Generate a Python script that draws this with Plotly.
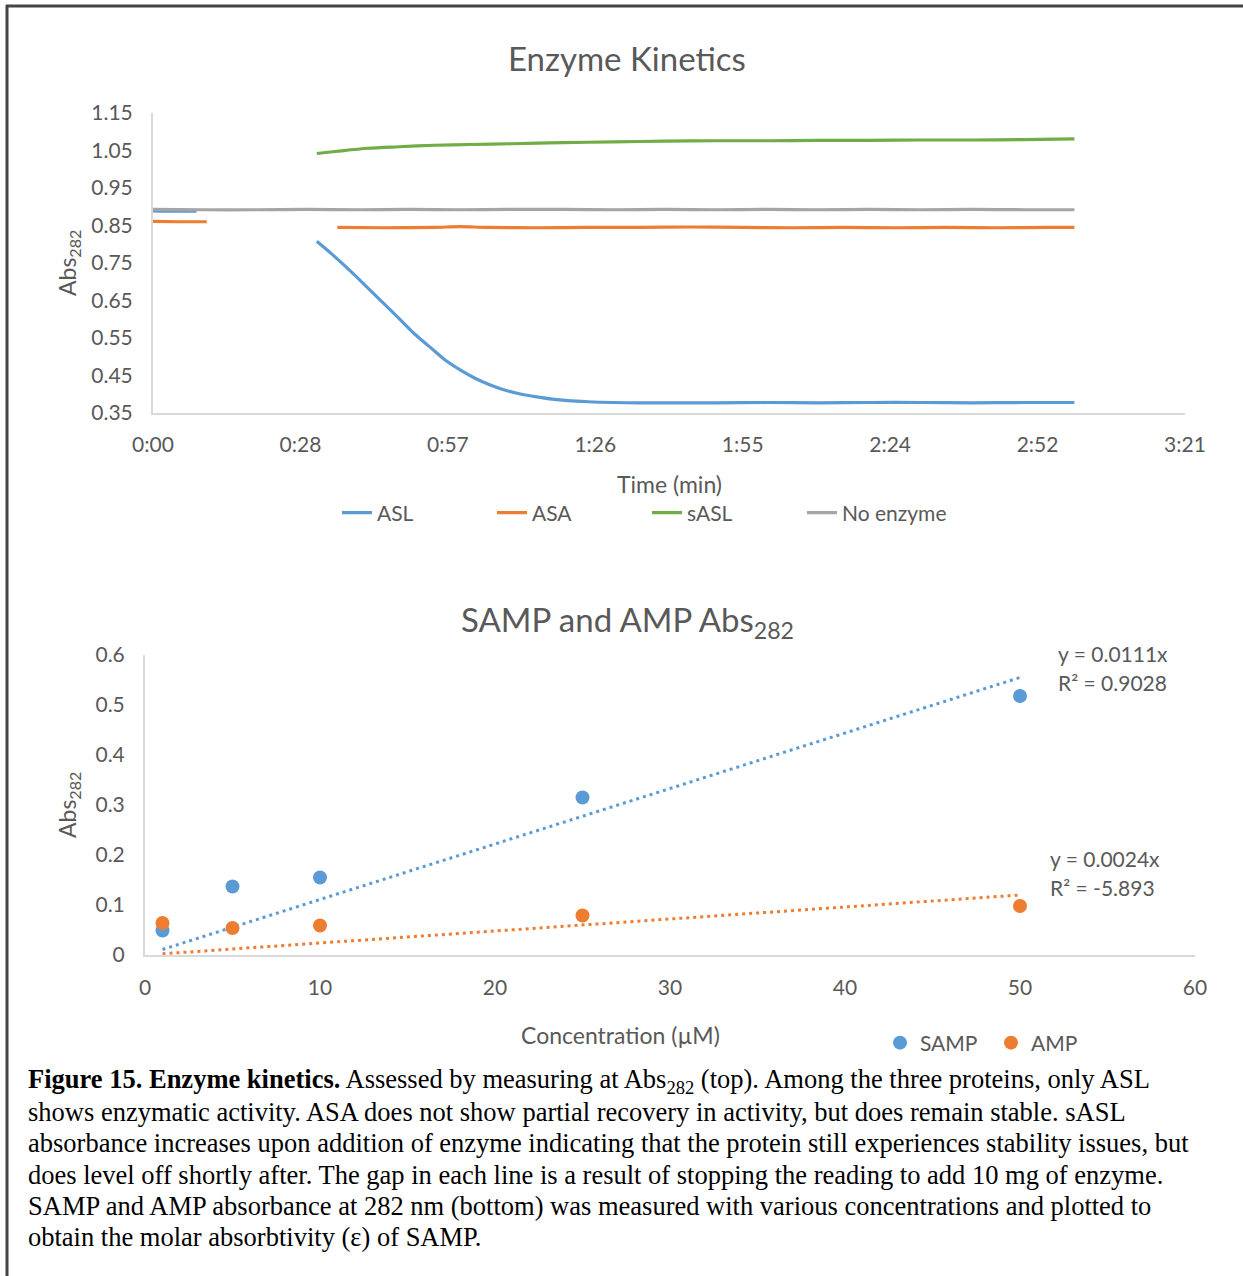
import plotly.graph_objects as go

W, H = 1243, 1276

# ---------------- data: top chart (time in seconds) ----------------
time_ticks = [0, 28.8, 57.6, 86.4, 115.2, 144.0, 172.8, 201.6]
time_labels = ["0:00", "0:28", "0:57", "1:26", "1:55", "2:24", "2:52", "3:21"]

asl_t1 = [0, 4, 8.5]
asl_v1 = [0.889, 0.888, 0.888]
asl_t2 = [32, 35, 39, 42, 45, 48, 51, 54, 57, 60, 63, 66, 69, 72, 75, 78, 81, 85,
          90, 95, 100, 110, 120, 130, 140, 150, 160, 170, 180]
asl_v2 = [0.808, 0.773, 0.723, 0.683, 0.643, 0.603, 0.562, 0.527, 0.492, 0.465,
          0.442, 0.424, 0.410, 0.400, 0.393, 0.387, 0.383, 0.380, 0.378, 0.377,
          0.377, 0.377, 0.378, 0.377, 0.378, 0.378, 0.377, 0.378, 0.378]

asa_t1 = [0, 5, 10.5]
asa_v1 = [0.861, 0.860, 0.860]
asa_t2 = [36, 45, 55, 60, 65, 75, 85, 95, 105, 115, 125, 135, 145, 155, 165, 175, 180]
asa_v2 = [0.845, 0.844, 0.845, 0.847, 0.845, 0.844, 0.845, 0.845, 0.846, 0.845,
          0.844, 0.845, 0.844, 0.845, 0.844, 0.845, 0.845]

sasl_t = [32, 36, 42, 48, 55, 62, 70, 80, 90, 100, 110, 120, 130, 140, 150, 160, 170, 180]
sasl_v = [1.042, 1.048, 1.056, 1.060, 1.064, 1.066, 1.068, 1.071, 1.073, 1.075,
          1.076, 1.076, 1.077, 1.077, 1.078, 1.078, 1.079, 1.081]

noenz_t = [0, 10, 20, 30, 40, 50, 60, 70, 80, 90, 100, 110, 120, 130, 140, 150, 160, 170, 180]
noenz_v = [0.893, 0.892, 0.892, 0.893, 0.892, 0.893, 0.892, 0.893, 0.893, 0.892,
           0.893, 0.892, 0.893, 0.892, 0.893, 0.892, 0.893, 0.892, 0.892]

# ---------------- data: bottom chart ----------------
conc = [1, 5, 10, 25, 50]
samp_abs = [0.049, 0.137, 0.155, 0.315, 0.518]
amp_abs = [0.064, 0.054, 0.059, 0.079, 0.098]
samp_slope, amp_slope = 0.0111, 0.0024
samp_eq = ["y = 0.0111x", "R² = 0.9028"]
amp_eq = ["y = 0.0024x", "R² = -5.893"]

caption_lines = [
    "<b>Figure 15. Enzyme kinetics.</b> Assessed by measuring at Abs<sub>282</sub> (top). Among the three proteins, only ASL",
    "shows enzymatic activity. ASA does not show partial recovery in activity, but does remain stable. sASL",
    "absorbance increases upon addition of enzyme indicating that the protein still experiences stability issues, but",
    "does level off shortly after. The gap in each line is a result of stopping the reading to add 10 mg of enzyme.",
    "SAMP and AMP absorbance at 282 nm (bottom) was measured with various concentrations and plotted to",
    "obtain the molar absorbtivity (\u03b5) of SAMP.",
]

BLUE, ORANGE, GREEN, GREY = "#5B9BD5", "#ED7D31", "#70AD47", "#A5A5A5"
TXT = "#595959"
AX = "#D9D9D9"
FONT = "Lato"
TICK = 21


def px(x):
    return x / W


def py(y):
    return 1 - y / H


def joined(t1, v1, t2, v2):
    return t1 + [None] + t2, v1 + [None] + v2


fig = go.Figure()

x, y = joined(asl_t1, asl_v1, asl_t2, asl_v2)
fig.add_trace(go.Scatter(x=x, y=y, mode="lines", name="ASL",
                         line=dict(color=BLUE, width=3.2, shape="spline", smoothing=0.8),
                         connectgaps=False, xaxis="x", yaxis="y", legend="legend"))
x, y = joined(asa_t1, asa_v1, asa_t2, asa_v2)
fig.add_trace(go.Scatter(x=x, y=y, mode="lines", name="ASA",
                         line=dict(color=ORANGE, width=3.2, shape="spline", smoothing=0.8),
                         connectgaps=False, xaxis="x", yaxis="y", legend="legend"))
fig.add_trace(go.Scatter(x=sasl_t, y=sasl_v, mode="lines", name="sASL",
                         line=dict(color=GREEN, width=3.2, shape="spline", smoothing=0.8),
                         xaxis="x", yaxis="y", legend="legend"))
fig.add_trace(go.Scatter(x=noenz_t, y=noenz_v, mode="lines", name="No enzyme",
                         line=dict(color=GREY, width=3.2, shape="spline", smoothing=0.8),
                         xaxis="x", yaxis="y", legend="legend"))

# trendlines (bottom)
tx = [conc[0], conc[-1]]
fig.add_trace(go.Scatter(x=tx, y=[samp_slope * v for v in tx], mode="lines", showlegend=False,
                         line=dict(color=BLUE, width=3, dash="3px,4px"), xaxis="x2", yaxis="y2"))
fig.add_trace(go.Scatter(x=tx, y=[amp_slope * v for v in tx], mode="lines", showlegend=False,
                         line=dict(color=ORANGE, width=3, dash="3px,4px"), xaxis="x2", yaxis="y2"))
fig.add_trace(go.Scatter(x=conc, y=samp_abs, mode="markers", name="SAMP", marker=dict(color=BLUE, size=14),
                         xaxis="x2", yaxis="y2", legend="legend2"))
fig.add_trace(go.Scatter(x=conc, y=amp_abs, mode="markers", name="AMP", marker=dict(color=ORANGE, size=14),
                         xaxis="x2", yaxis="y2", legend="legend2"))

axcommon = dict(showgrid=False, zeroline=False, showline=True, linecolor=AX, linewidth=2,
                ticks="", automargin=False, tickfont=dict(family=FONT, size=TICK, color=TXT))

fig.update_layout(
    template="plotly",
    width=W, height=H, margin=dict(l=0, r=0, t=0, b=0, autoexpand=False),
    paper_bgcolor="white", plot_bgcolor="white",
    font=dict(family=FONT, color=TXT),
    xaxis=dict(axcommon, domain=[px(153), px(1185)], range=[0, 201.6], tickmode="array",
               tickvals=time_ticks, ticktext=time_labels, anchor="y", ticklabelstandoff=12),
    yaxis=dict(axcommon, domain=[py(413), py(113)], range=[0.35, 1.15], tickmode="array",
               tickvals=[0.35, 0.45, 0.55, 0.65, 0.75, 0.85, 0.95, 1.05, 1.15],
               tickformat=".2f", anchor="x", ticklabelstandoff=14),
    xaxis2=dict(axcommon, domain=[px(145), px(1195)], range=[0, 60], dtick=10, tick0=0,
                anchor="y2", ticklabelstandoff=13),
    yaxis2=dict(axcommon, domain=[py(955), py(655)], range=[0, 0.6], dtick=0.1, tick0=0,
                anchor="x2", ticklabelstandoff=14),
    legend=dict(orientation="h", x=px(337), y=py(513), xanchor="left", yanchor="middle",
                font=dict(family=FONT, size=TICK, color=TXT), bgcolor="rgba(0,0,0,0)",
                entrywidth=110, itemwidth=30),
    legend2=dict(orientation="h", x=px(880), y=py(1043), xanchor="left", yanchor="middle",
                 font=dict(family=FONT, size=TICK, color=TXT), bgcolor="rgba(0,0,0,0)",
                 entrywidth=66, itemwidth=30),
)

ann = []
ann.append(dict(text="Enzyme Kinetics", x=px(627), y=py(58), xref="paper", yref="paper",
                showarrow=False, font=dict(family=FONT, size=33, color=TXT), xanchor="center", yanchor="middle"))
ann.append(dict(text="SAMP and AMP Abs<sub>282</sub>", x=px(627), y=py(622), xref="paper", yref="paper",
                showarrow=False, font=dict(family=FONT, size=33, color=TXT), xanchor="center", yanchor="middle"))
ann.append(dict(text="Time (min)", x=px(670), y=py(484), xref="paper", yref="paper",
                showarrow=False, font=dict(family=FONT, size=23, color=TXT), xanchor="center", yanchor="middle"))
ann.append(dict(text="Concentration (\u00b5M)", x=px(620), y=py(1035), xref="paper", yref="paper",
                showarrow=False, font=dict(family=FONT, size=23, color=TXT), xanchor="center", yanchor="middle"))
for yc in (263, 805):
    ann.append(dict(text="Abs<sub>282</sub>", x=px(68), y=py(yc), xref="paper", yref="paper", textangle=-90,
                    showarrow=False, font=dict(family=FONT, size=23, color=TXT), xanchor="center", yanchor="middle"))
for i, t in enumerate(samp_eq):
    ann.append(dict(text=t, x=px(1056), y=py(653 + 29 * i), xref="paper", yref="paper", showarrow=False,
                    font=dict(family=FONT, size=TICK, color=TXT), xanchor="left", yanchor="middle"))
for i, t in enumerate(amp_eq):
    ann.append(dict(text=t, x=px(1048), y=py(858 + 29 * i), xref="paper", yref="paper", showarrow=False,
                    font=dict(family=FONT, size=TICK, color=TXT), xanchor="left", yanchor="middle"))
for i, t in enumerate(caption_lines):
    ann.append(dict(text=t, x=px(26), y=py(1081 + 31.2 * i), xref="paper", yref="paper", showarrow=False,
                    font=dict(family="Liberation Serif", size=26.5, color="black"), xanchor="left", yanchor="middle"))
fig.update_layout(annotations=ann)

fig.update_layout(shapes=[
    dict(type="line", xref="paper", yref="paper", x0=px(6), x1=1, y0=py(6), y1=py(6),
         line=dict(color="#444444", width=3)),
    dict(type="line", xref="paper", yref="paper", x0=px(7), x1=px(7), y0=py(5), y1=0,
         line=dict(color="#444444", width=3)),
])

fig.write_html("out.html", config={"displayModeBar": False},
               post_script="document.body.style.margin='0';document.body.style.overflow='hidden';")
